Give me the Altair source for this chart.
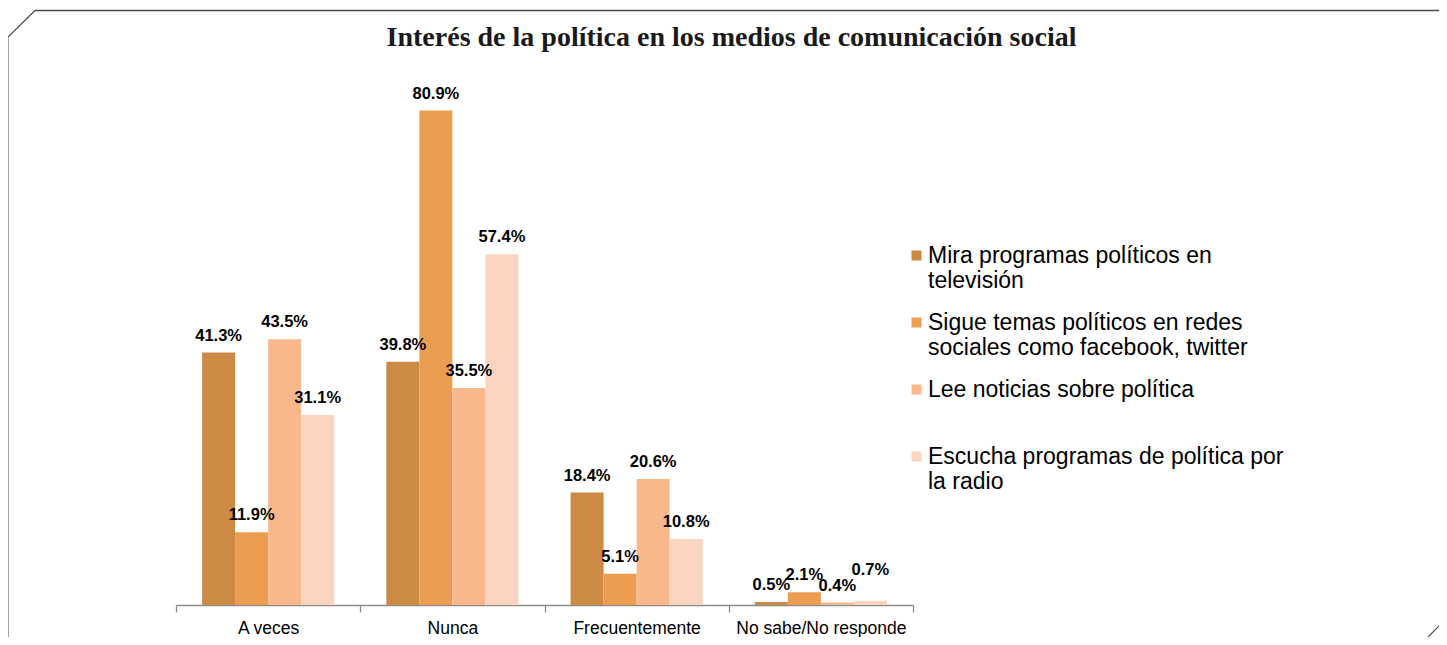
import json
import altair as alt
import pandas as pd

categories = ["A veces", "Nunca", "Frecuentemente", "No sabe/No responde"]
series = [
    "Mira programas políticos en televisión",
    "Sigue temas políticos en redes sociales como facebook, twitter",
    "Lee noticias sobre política",
    "Escucha programas de política por la radio",
]
tv = [41.3, 39.8, 18.4, 0.5]
redes = [11.9, 80.9, 5.1, 2.1]
noticias = [43.5, 35.5, 20.6, 0.4]
radio = [31.1, 57.4, 10.8, 0.7]
legend_lines = [
    ["Mira programas políticos en", "televisión"],
    ["Sigue temas políticos en redes", "sociales como facebook, twitter"],
    ["Lee noticias sobre política"],
    ["Escucha programas de política por", "la radio"],
]
colors = ["#CD8A45", "#EB9D52", "#F9B88B", "#FAD3C1"]
title_text = "Interés de la política en los medios de comunicación social"

rows = []
for s_i, (s, vals) in enumerate(zip(series, [tv, redes, noticias, radio])):
    for c, v in zip(categories, vals):
        rows.append({"cat": c, "serie": s, "order": s_i, "value": v,
                     "label": f"{v:.1f}%"})
df = pd.DataFrame(rows)

# legend label expression (multi-line labels)
expr = "''"
for s, lines in reversed(list(zip(series, legend_lines))):
    expr = f"datum.label == {json.dumps(s)} ? {json.dumps(lines)} : ({expr})"

W, H = 737, 550

x_enc = alt.X("cat:N", sort=categories, title=None,
              scale=alt.Scale(paddingInner=0, paddingOuter=0),
              axis=alt.Axis(labelAngle=0, tickBand="extent", domainColor="#8c8c8c",
                            tickColor="#8c8c8c", tickSize=7, labelPadding=7,
                            labelFont="Liberation Sans", labelFontSize=17.5,
                            labelColor="#000000", domainWidth=1.3, tickWidth=1.3))
xo_enc = alt.XOffset("serie:N", sort=series,
                     scale=alt.Scale(paddingInner=0, paddingOuter=0.79))
y_enc = alt.Y("value:Q", axis=None, scale=alt.Scale(domain=[0, 90]))

bars = alt.Chart(df).mark_bar().encode(
    x=x_enc, xOffset=xo_enc, y=y_enc,
    color=alt.Color("serie:N", sort=series,
                    scale=alt.Scale(domain=series, range=colors),
                    legend=alt.Legend(
                        title=None, orient="none", legendX=729, legendY=189,
                        symbolType="square", symbolSize=100, symbolStrokeWidth=0,
                        labelFont="Liberation Sans", labelFontSize=23,
                        labelColor="#000000", labelOffset=0, labelLimit=500,
                        gridAlign="all", rowPadding=18, padding=0,
                        labelExpr=expr,
                    )),
)

# small-value labels of the last series are lifted so they do not collide
labels = alt.Chart(df).transform_calculate(
    label_y="datum.value + ((datum.order == 3 && datum.value < 1) ? 2.3 : 0)"
).mark_text(
    font="Liberation Sans", fontSize=16.5, fontWeight="bold", color="#000000",
    baseline="alphabetic", dy=-12,
).encode(x=alt.X("cat:N", sort=categories), xOffset=alt.XOffset("serie:N", sort=series),
         y=alt.Y("label_y:Q"), text="label:N")

frame_src = alt.Data(values=[{"k": 1}])
frame_top = alt.Chart(frame_src).mark_rule(color="#4a4a4a", strokeWidth=1.3).encode(
    x=alt.value(-141), y=alt.value(-44.5), x2=alt.value(1300), y2=alt.value(-44.5))
frame_diag = alt.Chart(frame_src).mark_rule(color="#4a4a4a", strokeWidth=1.2).encode(
    x=alt.value(-168), y=alt.value(-18), x2=alt.value(-141), y2=alt.value(-44.5))
frame_left = alt.Chart(frame_src).mark_rule(color="#8f8f8f", strokeWidth=1.6).encode(
    x=alt.value(-168), y=alt.value(-18), x2=alt.value(-168), y2=alt.value(600))
frame_br = alt.Chart(frame_src).mark_rule(color="#4a4a4a", strokeWidth=1.2).encode(
    x=alt.value(1252), y=alt.value(582), x2=alt.value(1264), y2=alt.value(570))

chart = alt.layer(frame_top, frame_diag, frame_left, frame_br, bars, labels).properties(
    width=W, height=H,
    background="white",
    autosize=alt.AutoSizeParams(type="none"),
    padding={"left": 168, "top": 47, "right": 526, "bottom": 32},
    title=alt.TitleParams(title_text, font="Liberation Serif", fontSize=28,
                          fontWeight="bold", color="#1a1a1a", anchor="middle",
                          dx=187, offset=-42),
).configure_view(stroke=None)

chart.save("out.html", embed_options={"renderer": "svg", "actions": False})
